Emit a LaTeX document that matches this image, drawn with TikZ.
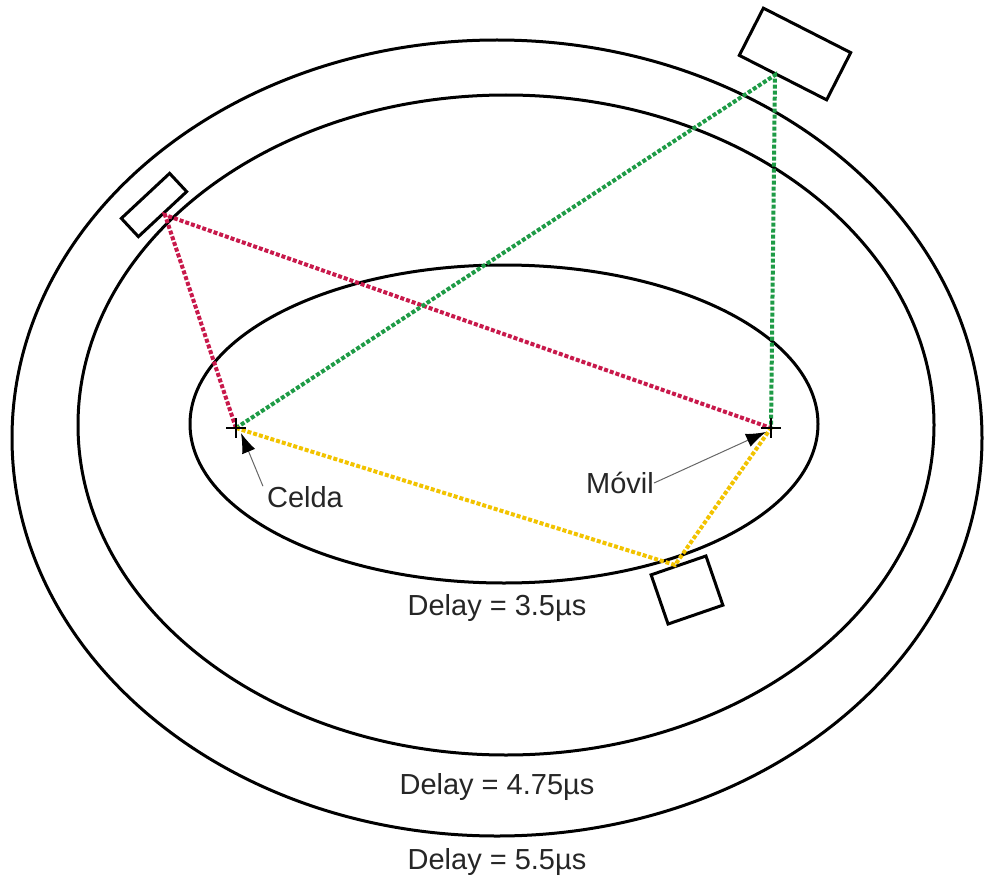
\documentclass[tikz,border=0pt]{standalone}
\usepackage{fontspec}
\setmainfont{Liberation Sans}
\usetikzlibrary{arrows.meta}
\definecolor{redl}{RGB}{200,25,75}
\definecolor{greenl}{RGB}{30,155,70}
\definecolor{yell}{RGB}{242,195,0}
\tikzset{
  ring/.style={draw=black,line width=3pt},
  refl/.style={draw=black,line width=3pt,fill=white},
  path/.style={line width=4pt,dash pattern=on 4pt off 2pt},
  lbl/.style={font=\fontsize{29}{34}\selectfont,text=black!85,inner sep=0pt},
  pointer/.style={draw=black!60,line width=1pt,-{Latex[length=20pt,width=14pt,color=black]}}
}
\begin{document}
\begin{tikzpicture}[x=1pt,y=-1pt]
\useasboundingbox (0,0) rectangle (985,888);
% rings
\draw[ring] (497,438) ellipse [x radius=485,y radius=398];
\draw[ring] (506,425) ellipse [x radius=428,y radius=330];
\draw[ring] (504,424) ellipse [x radius=314,y radius=159];
% coordinates
\coordinate (celda) at (236,428);
\coordinate (movil) at (771,428);
\coordinate (r1) at (165,215);
\coordinate (g1) at (775,75);
\coordinate (y1) at (675,565);
% reflectors
\node[refl,minimum width=66pt,minimum height=25pt,rotate=43,inner sep=0pt] (boxA) at (154,205) {};
\node[refl,minimum width=98pt,minimum height=53pt,rotate=-27,inner sep=0pt] (boxB) at (795,54) {};
\node[refl,minimum width=58pt,minimum height=52pt,rotate=19,inner sep=0pt] (boxC) at (687,590) {};
% paths
\draw[path,redl] (celda) -- (r1) -- (movil);
\draw[path,greenl] (celda) -- (g1) -- (movil);
\draw[path,yell] (celda) -- (y1) -- (movil);
% markers
\draw[black,line width=2.5pt] (celda) ++(-10,0) -- ++(20,0) (celda) ++(0,-10) -- ++(0,20);
\draw[black,line width=2.5pt] (movil) ++(-10,0) -- ++(20,0) (movil) ++(0,-10) -- ++(0,20);
% labels
\node[lbl] (lc) at (305,497) {Celda};
\node[lbl] (lm) at (620,483) {Móvil};
\draw[pointer] (lc.north west) ++(-4,0) coordinate (lcs) -- (241,433);
\draw[pointer] (lm.east) -- (766,432);
\node[lbl] (d1) at (497,608) {Delay = 3.5µs};
\node[lbl] (d2) at (497,787) {Delay = 4.75µs};
\node[lbl] (d3) at (497,862) {Delay = 5.5µs};
\end{tikzpicture}
\end{document}
